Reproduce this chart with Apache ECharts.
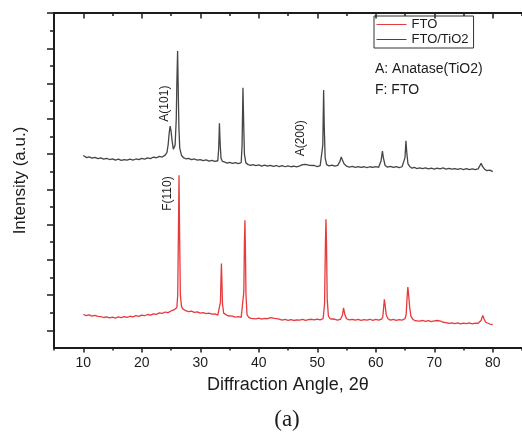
<!DOCTYPE html>
<html>
<head>
<meta charset="utf-8">
<script src="https://cdn.jsdelivr.net/npm/echarts@6/dist/echarts.min.js"></script>
<style>
  html, body { margin: 0; padding: 0; background: #fff; }
  #chart { width: 522px; height: 434px; }
</style>
</head>
<body>
<div id="chart"></div>
<script>
// XRD patterns: [2θ (deg), intensity (a.u.)]
const ftoPattern = [
  [10.0,190],[10.5,184],[11.0,188],[11.5,181],[12.0,185],[12.5,179],[13.0,178],[13.5,173],[14.0,177],[14.5,171],
  [15.0,175],[15.5,170],[16.0,176],[16.5,172],[17.0,178],[17.5,174],[18.0,180],[18.5,177],[19.0,183],[19.5,179],
  [20.0,186],[20.5,183],[21.0,190],[21.5,186],[22.0,194],[22.5,191],[23.0,199],[23.5,196],[24.0,204],[24.5,201],
  [25.0,210],[25.5,216],[25.8,222],[26.0,230],[26.15,300],[26.25,600],[26.37,980],[26.48,620],[26.6,300],[26.8,236],
  [27.0,222],[27.3,214],[27.6,210],[28.0,206],[28.5,209],[29.0,202],[29.5,205],[30.0,198],[30.5,201],[31.0,195],
  [31.5,198],[32.0,192],[32.5,194],[33.0,187],[33.3,190],[33.45,260],[33.55,400],[33.62,479],[33.7,380],[33.8,250],
  [34.0,198],[34.3,188],[34.7,183],[35.0,178],[35.5,181],[36.0,175],[36.5,178],[37.0,174],[37.3,182],[37.45,320],
  [37.55,600],[37.64,725],[37.72,560],[37.82,300],[38.0,188],[38.3,174],[38.7,168],[39.0,171],[39.5,165],[40.0,169],
  [40.5,164],[41.0,168],[41.5,166],[42.0,172],[42.33,179],[42.7,168],[43.0,161],[43.5,164],[44.0,158],[44.5,162],
  [45.0,157],[45.5,161],[46.0,156],[46.5,160],[47.0,158],[47.5,162],[48.0,157],[48.5,161],[49.0,163],[49.5,159],
  [50.0,164],[50.5,160],[51.0,166],[51.25,250],[51.4,600],[51.49,730],[51.58,600],[51.7,280],[51.9,182],[52.2,166],
  [52.5,160],[53.0,163],[53.5,158],[54.0,164],[54.3,186],[54.5,227],[54.7,192],[55.0,166],[55.5,159],[56.0,163],
  [56.5,158],[57.0,162],[57.5,157],[58.0,161],[58.5,158],[59.0,163],[59.5,157],[60.0,162],[60.5,158],[61.0,164],
  [61.2,176],[61.38,240],[61.47,276],[61.6,245],[61.8,186],[62.1,166],[62.5,158],[63.0,162],[63.5,157],[64.0,161],
  [64.5,158],[65.0,166],[65.2,190],[65.38,300],[65.49,346],[65.6,310],[65.8,232],[66.0,182],[66.3,164],[66.7,155],
  [67.0,158],[67.5,152],[68.0,156],[68.5,151],[69.0,155],[69.5,150],[70.0,154],[70.5,156],[70.8,161],[71.1,153],
  [71.5,146],[72.0,144],[72.5,139],[73.0,143],[73.5,138],[74.0,142],[74.5,137],[75.0,141],[75.5,138],[76.0,142],
  [76.5,137],[77.0,141],[77.5,140],[78.0,156],[78.29,184],[78.5,166],[78.8,146],[79.0,139],[79.5,136],[80.0,132]
];

const ftoTiO2Pattern = [
  [10.0,1092],[10.3,1086],[10.6,1080],[11.0,1084],[11.5,1077],[12.0,1081],[12.5,1074],[13.0,1078],[13.5,1071],[14.0,1076],
  [14.5,1069],[15.0,1073],[15.5,1066],[16.0,1071],[16.5,1064],[17.0,1069],[17.5,1065],[18.0,1071],[18.5,1066],[19.0,1072],
  [19.5,1068],[20.0,1075],[20.5,1071],[21.0,1078],[21.5,1074],[22.0,1083],[22.5,1079],[23.0,1087],[23.5,1083],[24.0,1094],
  [24.3,1108],[24.5,1150],[24.7,1222],[24.86,1259],[25.0,1232],[25.2,1172],[25.4,1128],[25.53,1122],[25.7,1150],[25.9,1300],
  [26.0,1500],[26.13,1684],[26.22,1500],[26.35,1250],[26.5,1132],[26.8,1092],[27.2,1078],[27.6,1072],[28.0,1075],[28.5,1068],
  [29.0,1072],[29.5,1065],[30.0,1069],[30.5,1063],[31.0,1067],[31.5,1060],[32.0,1064],[32.5,1058],[33.0,1062],[33.15,1130],
  [33.28,1274],[33.4,1160],[33.55,1076],[33.8,1058],[34.2,1054],[34.6,1049],[35.0,1053],[35.5,1047],[36.0,1051],[36.5,1046],
  [37.0,1052],[37.15,1150],[37.3,1476],[37.42,1280],[37.55,1100],[37.8,1050],[38.2,1040],[38.6,1036],[39.0,1040],[39.5,1034],
  [40.0,1038],[40.5,1032],[41.0,1037],[41.5,1031],[42.0,1036],[42.5,1030],[43.0,1035],[43.5,1029],[44.0,1034],[44.5,1028],
  [45.0,1033],[45.5,1028],[46.0,1032],[46.5,1027],[47.0,1033],[47.5,1040],[47.74,1050],[48.0,1041],[48.3,1032],[48.7,1036],
  [49.0,1030],[49.5,1035],[50.0,1029],[50.5,1034],[50.8,1045],[50.95,1150],[51.09,1463],[51.2,1250],[51.35,1080],[51.6,1040],
  [52.0,1033],[52.5,1037],[53.0,1031],[53.5,1036],[53.9,1060],[54.1,1084],[54.3,1066],[54.6,1044],[55.0,1032],[55.5,1026],
  [56.0,1030],[56.5,1025],[57.0,1029],[57.5,1024],[58.0,1028],[58.5,1023],[59.0,1028],[59.5,1024],[60.0,1029],[60.5,1025],
  [60.9,1060],[61.14,1117],[61.3,1080],[61.6,1035],[62.0,1026],[62.5,1030],[63.0,1024],[63.5,1029],[64.0,1023],[64.5,1028],
  [64.8,1032],[65.0,1080],[65.16,1175],[65.3,1110],[65.5,1046],[65.8,1030],[66.2,1020],[66.6,1024],[67.0,1018],[67.5,1022],
  [68.0,1017],[68.5,1021],[69.0,1016],[69.5,1020],[70.0,1015],[70.5,1020],[71.0,1016],[71.5,1021],[72.0,1015],[72.5,1019],
  [73.0,1014],[73.5,1018],[74.0,1013],[74.5,1018],[75.0,1012],[75.5,1017],[76.0,1012],[76.5,1016],[77.0,1011],[77.5,1016],
  [77.8,1034],[78.01,1047],[78.25,1030],[78.6,1014],[79.0,1006],[79.5,1009],[80.0,1000]
];

// Axis ticks and labels
const xTickLabels = [10, 20, 30, 40, 50, 60, 70, 80];
const xMinorTicks = [5, 15, 25, 35, 45, 55, 65, 75, 85];
const yMajorTicks = [100, 300, 500, 700, 900, 1100, 1300, 1500, 1700, 1900];
const yMinorTicks = [200, 400, 600, 800, 1000, 1200, 1400, 1600, 1800];

// Reflection labels: [text, 2θ, intensity]
const reflectionLabels = [
  ['A(101)', 23.85, 1386],
  ['F(110)', 24.4, 876],
  ['A(200)', 47.15, 1189]
];

const FONT = '"Liberation Sans", Arial, sans-serif';
const INK = '#1c1c1c';
const RED = '#e8393c';
const GREY = '#454545';

const chart = echarts.init(document.getElementById('chart'), null, { renderer: 'canvas' });

const axisLine = { show: true, lineStyle: { color: INK, width: 2 } };
const noLine = { show: false };
const tickStyle = { color: INK, width: 1.5 };

const xBase = { type: 'value', min: 5, max: 85, splitLine: { show: false }, gridIndex: 0 };
const yBase = { type: 'value', min: 0, max: 1900, splitLine: { show: false }, gridIndex: 0 };

chart.setOption({
  animation: false,
  backgroundColor: '#fff',
  grid: { left: 54, top: 13, right: -10, bottom: 86, containLabel: false },
  legend: {
    left: 374, top: 16,
    orient: 'vertical',
    data: ['FTO', 'FTO/TiO2'],
    itemWidth: 30, itemHeight: 13, itemGap: 2,
    padding: [2, 5, 2, 2],
    borderColor: '#333', borderWidth: 1,
    itemStyle: { opacity: 0 },
    lineStyle: { width: 1 },
    textStyle: { fontFamily: FONT, fontSize: 13, color: INK }
  },
  xAxis: [
    Object.assign({}, xBase, {
      position: 'bottom',
      name: 'Diffraction Angle, 2\u03b8', nameLocation: 'middle', nameGap: 28,
      nameTextStyle: { fontFamily: FONT, fontSize: 18, color: INK },
      axisLine: axisLine,
      axisTick: { show: true, length: 2.5, customValues: xMinorTicks, lineStyle: tickStyle },
      axisLabel: { show: true, customValues: xTickLabels, margin: 8, fontFamily: FONT, fontSize: 14, color: INK }
    }),
    Object.assign({}, xBase, {
      position: 'bottom', axisLine: noLine,
      axisTick: { show: true, length: 4.5, customValues: xTickLabels, lineStyle: tickStyle },
      axisLabel: { show: false }
    }),
    Object.assign({}, xBase, {
      position: 'top', axisLine: axisLine,
      axisTick: { show: true, inside: true, length: 3, customValues: xMinorTicks, lineStyle: tickStyle },
      axisLabel: { show: false }
    }),
    Object.assign({}, xBase, {
      position: 'top', axisLine: noLine,
      axisTick: { show: true, inside: true, length: 5.5, customValues: xTickLabels, lineStyle: tickStyle },
      axisLabel: { show: false }
    })
  ],
  yAxis: [
    Object.assign({}, yBase, {
      position: 'left',
      name: 'Intensity (a.u.)', nameLocation: 'middle', nameGap: 25,
      nameTextStyle: { fontFamily: FONT, fontSize: 17, color: INK },
      axisLine: axisLine,
      axisTick: { show: true, length: 4, customValues: yMinorTicks, lineStyle: tickStyle },
      axisLabel: { show: false }
    }),
    Object.assign({}, yBase, {
      position: 'left', axisLine: noLine,
      axisTick: { show: true, length: 7, customValues: yMajorTicks, lineStyle: tickStyle },
      axisLabel: { show: false }
    })
  ],
  series: [
    {
      name: 'FTO', type: 'line', xAxisIndex: 0, yAxisIndex: 0,
      data: ftoPattern, symbol: 'none', showSymbol: false,
      lineStyle: { color: RED, width: 1.3 }, itemStyle: { color: RED },
      z: 3
    },
    {
      name: 'FTO/TiO2', type: 'line', xAxisIndex: 0, yAxisIndex: 0,
      data: ftoTiO2Pattern, symbol: 'none', showSymbol: false,
      lineStyle: { color: GREY, width: 1.3 }, itemStyle: { color: GREY },
      z: 3
    }
  ]
});

// Rotated reflection labels placed through the data coordinate system
const labelGraphics = reflectionLabels.map(function (r) {
  const p = chart.convertToPixel({ xAxisIndex: 0, yAxisIndex: 0 }, [r[1], r[2]]);
  return {
    type: 'text', x: p[0], y: p[1], rotation: Math.PI / 2, z: 10,
    style: { text: r[0], fontFamily: FONT, fontSize: 12, fill: INK, align: 'center', verticalAlign: 'middle' }
  };
});

chart.setOption({
  graphic: labelGraphics.concat([
    { type: 'text', left: 375, top: 62, z: 10,
      style: { text: 'A: Anatase(TiO2)', fontFamily: FONT, fontSize: 14, fill: INK } },
    { type: 'text', left: 375, top: 83, z: 10,
      style: { text: 'F: FTO', fontFamily: FONT, fontSize: 14, fill: INK } },
    { type: 'text', x: 287, y: 420, z: 10,
      style: { text: '(a)', fontFamily: '"Liberation Serif", "Times New Roman", serif', fontSize: 23, fill: INK, align: 'center', verticalAlign: 'middle' } }
  ])
});
</script>
</body>
</html>
